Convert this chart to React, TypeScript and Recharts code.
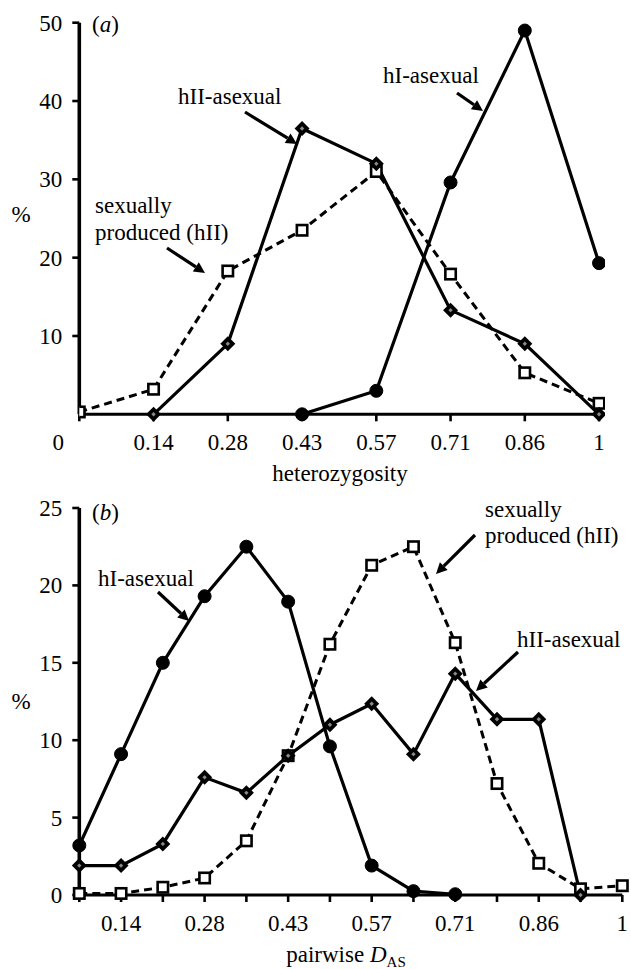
import React from "react";
import { LineChart, Line, XAxis, YAxis } from "recharts";

// ---------- data: panel (a) heterozygosity ----------
const hetLabels = ["0", "0.14", "0.28", "0.43", "0.57", "0.71", "0.86", "1"];
const hetSexual = [0.3, 3.2, 18.3, 23.5, 31.0, 17.9, 5.3, 1.4];
const hetHII = [null, 0, 9.0, 36.5, 32.0, 13.3, 9.0, 0];
const hetHI = [null, null, null, 0, 3.0, 29.6, 49.0, 19.3];
const hetYTicks = [10, 20, 30, 40, 50];

// ---------- data: panel (b) pairwise D_AS ----------
const dasLabels = ["", "0.14", "", "0.28", "", "0.43", "", "0.57", "", "0.71", "", "0.86", "", "1"];
const dasHI = [3.2, 9.1, 15.0, 19.3, 22.5, 18.95, 9.6, 1.9, 0.25, 0.05, null, null, null, null];
const dasHII = [1.9, 1.9, 3.3, 7.6, 6.6, 9.0, 11.0, 12.35, 9.1, 14.3, 11.35, 11.35, 0, null];
const dasSexual = [0.1, 0.1, 0.5, 1.1, 3.5, 9.0, 16.2, 21.3, 22.5, 16.3, 7.2, 2.05, 0.4, 0.6];
const dasYTicks = [0, 5, 10, 15, 20, 25];

const dataA = hetLabels.map((_, i) => ({ i, sexual: hetSexual[i], hII: hetHII[i], hI: hetHI[i] }));
const dataB = dasLabels.map((_, i) => ({ i, sexual: dasSexual[i], hII: dasHII[i], hI: dasHI[i] }));

const FONT = "'Liberation Serif', 'Times New Roman', serif";
const FS = 23;

const CircleDot = (p: any) => {
  if (p.cx == null || p.cy == null || p.value == null) return <g key={p.key} />;
  return <circle key={p.key} cx={p.cx} cy={p.cy} r={6.5} fill="#000" stroke="#000" />;
};
const SquareDot = (p: any) => {
  if (p.cx == null || p.cy == null || p.value == null) return <g key={p.key} />;
  const s = 5.2;
  return <rect key={p.key} x={p.cx - s} y={p.cy - s} width={2 * s} height={2 * s} fill="#fff" stroke="#000" strokeWidth={2.6} />;
};
const DiamondDot = (p: any) => {
  if (p.cx == null || p.cy == null || p.value == null) return <g key={p.key} />;
  const r = 7.5;
  const r2 = 2.2;
  const { cx, cy } = p;
  return (
    <g key={p.key}>
      <polygon points={`${cx},${cy - r} ${cx + r},${cy} ${cx},${cy + r} ${cx - r},${cy}`} fill="#000" />
      <polygon points={`${cx},${cy - r2} ${cx + r2},${cy} ${cx},${cy + r2} ${cx - r2},${cy}`} fill="#8a8a8a" />
    </g>
  );
};

const makeXTick = (labels: string[], zeroShift: number) => (p: any) => {
  const v = p.payload.value;
  const lbl = labels[v] ?? "";
  const dx = v === 0 ? zeroShift : 0;
  return (
    <text x={p.x + dx} y={p.y + 27} textAnchor="middle" fontSize={FS} fontFamily={FONT} fill="#000">
      {lbl}
    </text>
  );
};
const YTick = (p: any) => (
  <text x={p.x} y={p.y + 8} textAnchor="end" fontSize={FS} fontFamily={FONT} fill="#000">
    {p.payload.value}
  </text>
);

const Arrow = ({ x1, y1, x2, y2 }: { x1: number; y1: number; x2: number; y2: number }) => {
  const ang = Math.atan2(y2 - y1, x2 - x1);
  const L = 11;
  const Wd = 5.5;
  const bx = x2 - L * Math.cos(ang);
  const by = y2 - L * Math.sin(ang);
  const px = -Math.sin(ang) * Wd;
  const py = Math.cos(ang) * Wd;
  return (
    <g>
      <line x1={x1} y1={y1} x2={bx} y2={by} stroke="#000" strokeWidth={3.2} />
      <polygon points={`${x2},${y2} ${bx + px},${by + py} ${bx - px},${by - py}`} fill="#000" />
    </g>
  );
};

const T = ({ x, y, children, anchor = "start" }: any) => (
  <text x={x} y={y} fontSize={FS} fontFamily={FONT} fill="#000" textAnchor={anchor}>
    {children}
  </text>
);

const axisLineY = { stroke: "#000", strokeWidth: 3.6 };
const axisLineX = { stroke: "#000", strokeWidth: 3 };
const tickLine = { stroke: "#000", strokeWidth: 2.6 };

export default function App() {
  return (
    <div style={{ position: "absolute", left: 0, top: 0, width: 631, height: 969, background: "#fff", overflow: "hidden" }}>
      <div style={{ position: "absolute", left: 0, top: 0 }}>
        <LineChart width={631} height={500} data={dataA} margin={{ top: 22.7, right: 26, left: 0, bottom: 0 }}>
          <XAxis
            dataKey="i"
            type="number"
            domain={[0, 7.08]}
            ticks={[0, 1, 2, 3, 4, 5, 6, 7]}
            height={85.7}
            axisLine={axisLineX}
            tickLine={tickLine}
            tickSize={7}
            tickMargin={2}
            tick={makeXTick(hetLabels, -21)}
            allowDataOverflow
          />
          <YAxis
            type="number"
            domain={[0, 50]}
            ticks={hetYTicks}
            width={79.3}
            axisLine={axisLineY}
            tickLine={tickLine}
            tickSize={7}
            tickMargin={10}
            tick={YTick}
          />
          <Line dataKey="sexual" stroke="#000" strokeWidth={3} strokeDasharray="8 5" dot={SquareDot} isAnimationActive={false} connectNulls={false} />
          <Line dataKey="hI" stroke="#000" strokeWidth={3.2} dot={CircleDot} isAnimationActive={false} connectNulls={false} />
          <Line dataKey="hII" stroke="#000" strokeWidth={3.2} dot={DiamondDot} isAnimationActive={false} connectNulls={false} />
        </LineChart>
      </div>
      <div style={{ position: "absolute", left: 0, top: 0 }}>
        <LineChart width={631} height={969} data={dataB} margin={{ top: 508, right: 8.7, left: 0, bottom: 0 }}>
          <XAxis
            dataKey="i"
            type="number"
            domain={[0, 13]}
            ticks={[0, 1, 2, 3, 4, 5, 6, 7, 8, 9, 10, 11, 12, 13]}
            height={74}
            axisLine={axisLineX}
            tickLine={tickLine}
            tickSize={7}
            tickMargin={2}
            tick={makeXTick(dasLabels, 0)}
          />
          <YAxis
            type="number"
            domain={[0, 25]}
            ticks={dasYTicks}
            width={79.3}
            axisLine={axisLineY}
            tickLine={tickLine}
            tickSize={7}
            tickMargin={10}
            tick={YTick}
          />
          <Line dataKey="sexual" stroke="#000" strokeWidth={3} strokeDasharray="8 5" dot={SquareDot} isAnimationActive={false} connectNulls={false} />
          <Line dataKey="hI" stroke="#000" strokeWidth={3.2} dot={CircleDot} isAnimationActive={false} connectNulls={false} />
          <Line dataKey="hII" stroke="#000" strokeWidth={3.2} dot={DiamondDot} isAnimationActive={false} connectNulls={false} />
        </LineChart>
      </div>
      <svg width={631} height={969} style={{ position: "absolute", left: 0, top: 0, pointerEvents: "none" }}>
        {/* panel (a) */}
        <text x={92} y={32} fontSize={FS} fontFamily={FONT}>
          (<tspan fontStyle="italic">a</tspan>)
        </text>
        <T x={21} y={222} anchor="middle">%</T>
        <T x={178} y={104}>hII-asexual</T>
        <Arrow x1={245} y1={112} x2={297} y2={144} />
        <T x={383} y={83}>hI-asexual</T>
        <Arrow x1={457} y1={93} x2={483} y2={111} />
        <T x={95} y={213}>sexually</T>
        <T x={95} y={240}>produced (hII)</T>
        <Arrow x1={167} y1={248} x2={205} y2={273} />
        <T x={340} y={481} anchor="middle">heterozygosity</T>

        {/* panel (b) */}
        <text x={92} y={520} fontSize={FS} fontFamily={FONT}>
          (<tspan fontStyle="italic">b</tspan>)
        </text>
        <T x={21} y={709} anchor="middle">%</T>
        <T x={98} y={586}>hI-asexual</T>
        <Arrow x1={158} y1={592} x2={189} y2={621} />
        <T x={485} y={517}>sexually</T>
        <T x={485} y={543}>produced (hII)</T>
        <Arrow x1={475} y1={535} x2={436} y2={574} />
        <T x={517} y={647}>hII-asexual</T>
        <Arrow x1={518} y1={652} x2={476} y2={691} />
        <text x={346} y={962} fontSize={FS} fontFamily={FONT} textAnchor="middle">
          pairwise <tspan fontStyle="italic">D</tspan>
          <tspan fontSize={15} dy={5}>AS</tspan>
        </text>
      </svg>
    </div>
  );
}
